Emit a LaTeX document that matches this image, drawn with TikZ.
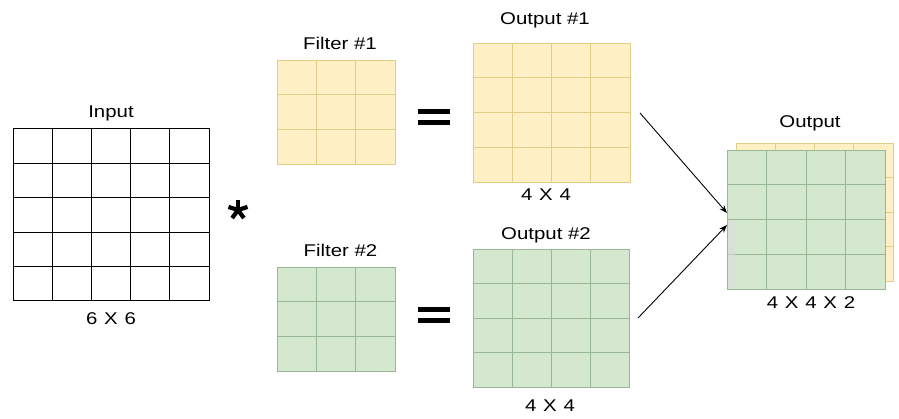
\documentclass[tikz,border=0pt]{standalone}
\usepackage{fontspec}
\newfontfamily\lab[FakeStretch=1.2]{Liberation Sans}
\usetikzlibrary{fit,arrows.meta}
\definecolor{yfill}{HTML}{FFF0C6}
\definecolor{yline}{HTML}{E2CD86}
\definecolor{gfill}{HTML}{D4E8D0}
\definecolor{gline}{HTML}{98B893}
\definecolor{sgray}{HTML}{DCDCDC}
\newcommand\xx{\hspace{0.4em}X\hspace{0.4em}}
% name, x0, y0, x1, y1, cols, rows, style
\newcommand\mygrid[8]{%
  \node[#8, inner sep=0pt, outer sep=0pt, fit={(#2,#3) (#4,#5)}] (#1) {};
  \foreach \i in {1,...,\numexpr#6-1\relax}{
    \draw[#8, fill=none] ({#2+(#4-#2)*\i/#6},#3) -- ({#2+(#4-#2)*\i/#6},#5);
  }
  \foreach \j in {1,...,\numexpr#7-1\relax}{
    \draw[#8, fill=none] (#2,{#3+(#5-#3)*\j/#7}) -- (#4,{#3+(#5-#3)*\j/#7});
  }
}
\begin{document}
\begin{tikzpicture}[x=1pt,y=-1pt,
  lbl/.style={font=\lab\fontsize{17}{20}\selectfont, anchor=base, inner sep=0pt},
  inbox/.style={draw=black, line width=1pt},
  ybox/.style={draw=yline, fill=yfill, line width=0.9pt},
  gbox/.style={draw=gline, fill=gfill, line width=0.9pt},
  eqbar/.style={line width=5pt, black},
  conn/.style={draw=black, line width=0.9pt, -{Stealth[length=8pt,width=6pt]}}]
\useasboundingbox (0,0) rectangle (899,419);

% Input
\mygrid{in}{13}{129}{209}{301}{5}{5}{inbox}
\node[lbl] (inlab) at (111,118) {Input};
\node[lbl] (insz) at (111,325) {6\xx 6};

% asterisk
\coordinate (ast) at (238,210);
\foreach \a in {90,18,-54,-126,162}
  \draw[line width=4.2pt, black] (ast) -- ++(\a:-10);

% Filters
\mygrid{f1}{277}{60}{395}{164}{3}{3}{ybox}
\node[lbl] (f1lab) at (340,50) {Filter \#1};
\mygrid{f2}{277}{267}{395}{371}{3}{3}{gbox}
\node[lbl] (f2lab) at (340.5,256.7) {Filter \#2};

% equals signs
\draw[eqbar] (418,111.5) -- (450,111.5);
\draw[eqbar] (418,123) -- (450,123);
\draw[eqbar] (418,310) -- (450,310);
\draw[eqbar] (418,320.5) -- (450,320.5);

% Outputs
\mygrid{o1}{473}{43}{630}{182}{4}{4}{ybox}
\node[lbl] (o1lab) at (545,25) {Output \#1};
\node[lbl] (o1sz) at (546,201) {4\xx 4};
\mygrid{o2}{473}{249}{629}{387}{4}{4}{gbox}
\node[lbl] (o2lab) at (546,240) {Output \#2};
\node[lbl] (o2sz) at (550,411.7) {4\xx 4};

% Stacked output
\mygrid{back}{736}{143}{893}{281}{4}{4}{ybox}
\mygrid{front}{727}{150}{885}{289}{4}{4}{gbox}
\fill[sgray, opacity=0.6] (727.5,222) rectangle (735,288.5);
\node[lbl] (olab) at (810,128) {Output};
\node[lbl] (osz) at (811,308.3) {4\xx 4\xx 2};

% connectors
\draw[conn] ([xshift=10pt,yshift=-0.5pt]o1.east) -- ([yshift=6.5pt]front.west);
\draw[conn] ([xshift=9pt]o2.east) -- ([yshift=-5.5pt]front.west);
\end{tikzpicture}
\end{document}
